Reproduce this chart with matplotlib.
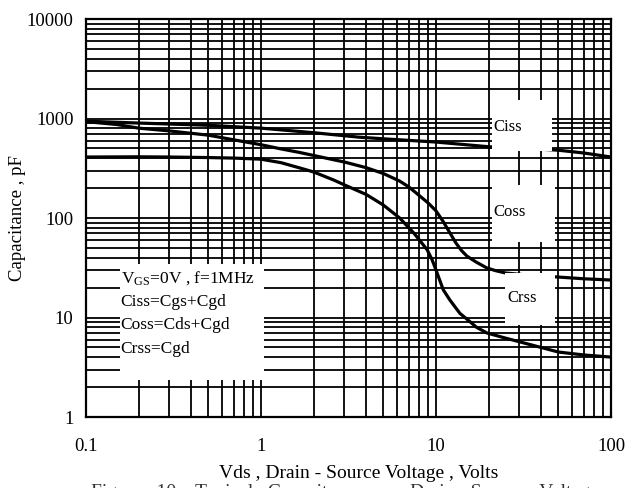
import matplotlib
matplotlib.use("Agg")
import matplotlib.pyplot as plt
from matplotlib.patches import Rectangle

plt.rcParams['font.family'] = ['Liberation Serif', 'DejaVu Serif']
plt.rcParams['mathtext.fontset'] = 'custom'
plt.rcParams['mathtext.rm'] = 'Liberation Serif'
plt.rcParams['mathtext.it'] = 'Liberation Serif:italic'

# ---- data ----
ciss_v = [0.1, 0.2, 0.5, 1, 2, 3.6, 5, 10, 20, 30, 50, 70, 100]
ciss_c = [940, 900, 855, 800, 720, 650, 625, 580, 520, 505, 480, 450, 410]

coss_v = [0.1, 0.15, 0.2, 0.3, 0.5, 0.7, 1, 1.3, 1.67, 2.0, 2.6, 3.0, 4.0, 5.0, 6.2,
          7.0, 7.9, 9.0, 10, 11, 12, 13, 14, 15, 16, 17, 19.5, 22, 25, 35, 50, 70, 100]
coss_c = [930, 870, 800, 750, 680, 610, 545, 495, 455, 425, 385, 365, 320, 280, 235,
          205, 172, 142, 118, 92, 71, 56, 47, 41.5, 38.5, 36, 31.5, 29.5, 28, 26.5, 25.5,
          24.5, 23.8]

crss_v = [0.1, 0.2, 0.3, 0.5, 0.7, 1, 1.3, 1.67, 2.0, 2.6, 3.0, 4.0, 5.0, 6.2, 7.5,
          8.9, 9.5, 10, 11, 12, 13.7, 15.5, 17, 19.5, 25, 30, 50, 70, 100]
crss_c = [410, 412, 410, 405, 400, 390, 360, 318, 290, 241, 215, 172, 135, 100, 70,
          48, 38, 30, 19, 15, 11, 9.2, 8, 7, 6.2, 5.7, 4.5, 4.2, 4.0]

x_ticks = [0.1, 1, 10, 100]
x_ticklabels = ['0.1', '1', '10', '100']
y_ticks = [1, 10, 100, 1000, 10000]
y_ticklabels = ['1', '10', '100', '1000', '10000']

legend_lines = [r'V$_{\rm GS}$=0V , f=1MHz', 'Ciss=Cgs+Cgd', 'Coss=Cds+Cgd', 'Crss=Cgd']

W, H = 627, 488
fig = plt.figure(figsize=(W / 100, H / 100), dpi=100)
L, R, T, B = 86, 611, 19, 417
ax = fig.add_axes([L / W, 1 - B / H, (R - L) / W, (B - T) / H])

ax.set_xscale('log')
ax.set_yscale('log')
ax.set_xlim(0.1, 100)
ax.set_ylim(1, 10000)

ax.grid(which='both', color='black', lw=1.3)
ax.set_axisbelow(True)
for s in ax.spines.values():
    s.set_color('black')
    s.set_linewidth(1.6)
    s.set_zorder(5)

for v, c in [(ciss_v, ciss_c), (coss_v, coss_c), (crss_v, crss_c)]:
    ax.plot(v, c, color='black', lw=2.3, zorder=3, solid_capstyle='round',
            solid_joinstyle='round')

ax.set_xticks(x_ticks)
ax.set_xticklabels(x_ticklabels)
ax.set_yticks(y_ticks)
ax.set_yticklabels(y_ticklabels)
ax.tick_params(which='both', length=0)
ax.tick_params(axis='x', pad=15, labelsize=13.5)
ax.tick_params(axis='y', pad=9, labelsize=13.5)

# white boxes behind labels
boxes = [(0.773, 0.668, 0.115, 0.128),
         (0.773, 0.440, 0.121, 0.143),
         (0.798, 0.231, 0.096, 0.131),
         (0.065, 0.093, 0.274, 0.291)]
for (x0, y0, w, h) in boxes:
    ax.add_patch(Rectangle((x0, y0), w, h, transform=ax.transAxes,
                           facecolor='white', edgecolor='none', zorder=4))

ax.text(0.775, 0.729, 'Ciss', transform=ax.transAxes, fontsize=12, va='center', ha='left', zorder=6)
ax.text(0.775, 0.515, 'Coss', transform=ax.transAxes, fontsize=12, va='center', ha='left', zorder=6)
ax.text(0.802, 0.299, 'Crss', transform=ax.transAxes, fontsize=12, va='center', ha='left', zorder=6)

for i, t in enumerate(legend_lines):
    ax.text(0.066, 0.349 - i * 0.0595, t, transform=ax.transAxes, fontsize=12.5,
            va='center', ha='left', zorder=6)

fig.text(18 / W, 1 - 218 / H, 'Capacitance , pF', rotation=90, fontsize=13.5,
         ha='center', va='center')
fig.text(359 / W, 1 - 474 / H, 'Vds , Drain - Source Voltage , Volts', fontsize=14,
         ha='center', va='center')
fig.text(345 / W, 1 - 484 / H,
         'Figure   10.   Typical   Capacitance   vs   Drain - Source   Voltage',
         fontsize=14, ha='center', va='top', color='#333333')

fig.savefig('out.png', dpi=100, facecolor='white')
